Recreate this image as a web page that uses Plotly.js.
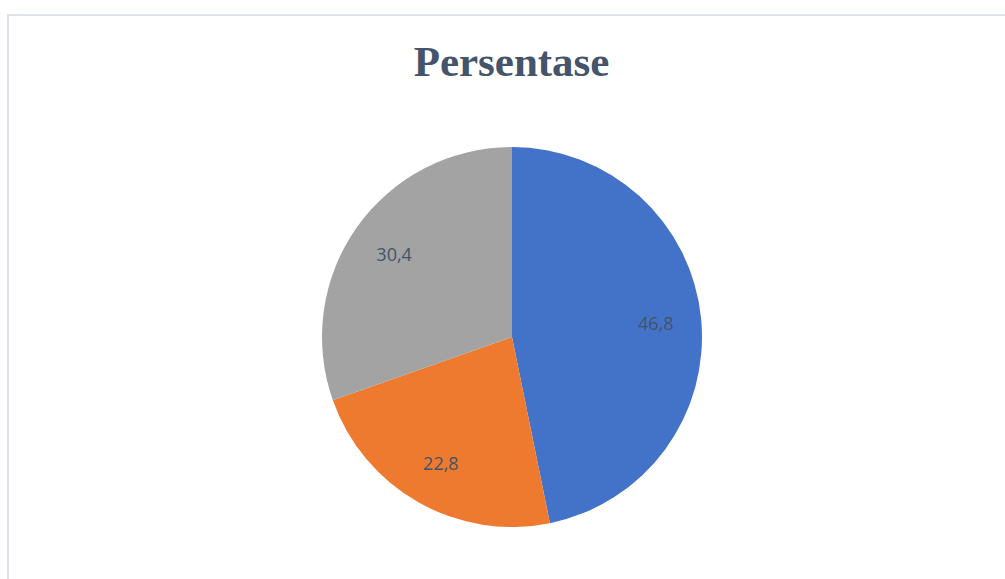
<!DOCTYPE html>
<html>
<head>
<meta charset="utf-8">
<script src="https://cdn.plot.ly/plotly-3.0.1.min.js"></script>
<style>
  html, body { margin: 0; padding: 0; background: #ffffff; }
  #wrap { position: relative; width: 1005px; height: 579px; overflow: hidden; }
  #frame { position: absolute; left: 7px; top: 14px; width: 1100px; height: 700px;
           border-top: 2px solid #dfe3e9; border-left: 2px solid #dfe3e9; box-sizing: border-box; }
  #chart { position: absolute; left: 0; top: 0; width: 1005px; height: 579px; }
</style>
</head>
<body>
<div id="wrap">
  <div id="frame"></div>
  <div id="chart"></div>
</div>
<script>
const categories = ["Kategori 1", "Kategori 2", "Kategori 3"];
const values = [46.8, 22.8, 30.4];
const colors = ["#4372c9", "#ee7a2f", "#a3a3a3"];
const chartTitle = "Persentase";

const pieDomain = { x: [0.3204, 0.6985], y: [0.0898, 0.7461] };

// Filled slices (no text)
const slices = {
  type: "pie",
  labels: categories,
  values: values,
  sort: false,
  direction: "clockwise",
  rotation: 0,
  marker: { colors: colors, line: { color: "#ffffff", width: 0 } },
  textinfo: "none",
  hoverinfo: "label+value",
  showlegend: false,
  domain: pieDomain
};

// Transparent ring overlay carrying the data labels further out, like the original
const labelsRing = {
  type: "pie",
  labels: categories,
  values: values,
  sort: false,
  direction: "clockwise",
  rotation: 0,
  hole: 0.52,
  marker: { colors: ["rgba(0,0,0,0)", "rgba(0,0,0,0)", "rgba(0,0,0,0)"], line: { width: 0 } },
  texttemplate: "%{value:.1f}",
  textposition: "inside",
  insidetextorientation: "horizontal",
  textfont: { family: "Open Sans, Liberation Sans, sans-serif", size: 18, color: "#44546a" },
  hoverinfo: "skip",
  showlegend: false,
  domain: pieDomain
};

const layout = {
  width: 1005,
  height: 579,
  margin: { l: 0, r: 0, t: 0, b: 0 },
  paper_bgcolor: "rgba(0,0,0,0)",
  plot_bgcolor: "rgba(0,0,0,0)",
  separators: ",.",
  showlegend: false,
  title: {
    text: "<b>" + chartTitle + "</b>",
    font: { family: "Liberation Serif, Times New Roman, serif", size: 43, color: "#44546a" },
    x: 0.509, xanchor: "center",
    y: 0.894, yanchor: "middle"
  }
};

Plotly.newPlot("chart", [slices, labelsRing], layout, { displayModeBar: false, staticPlot: true });
</script>
</body>
</html>
